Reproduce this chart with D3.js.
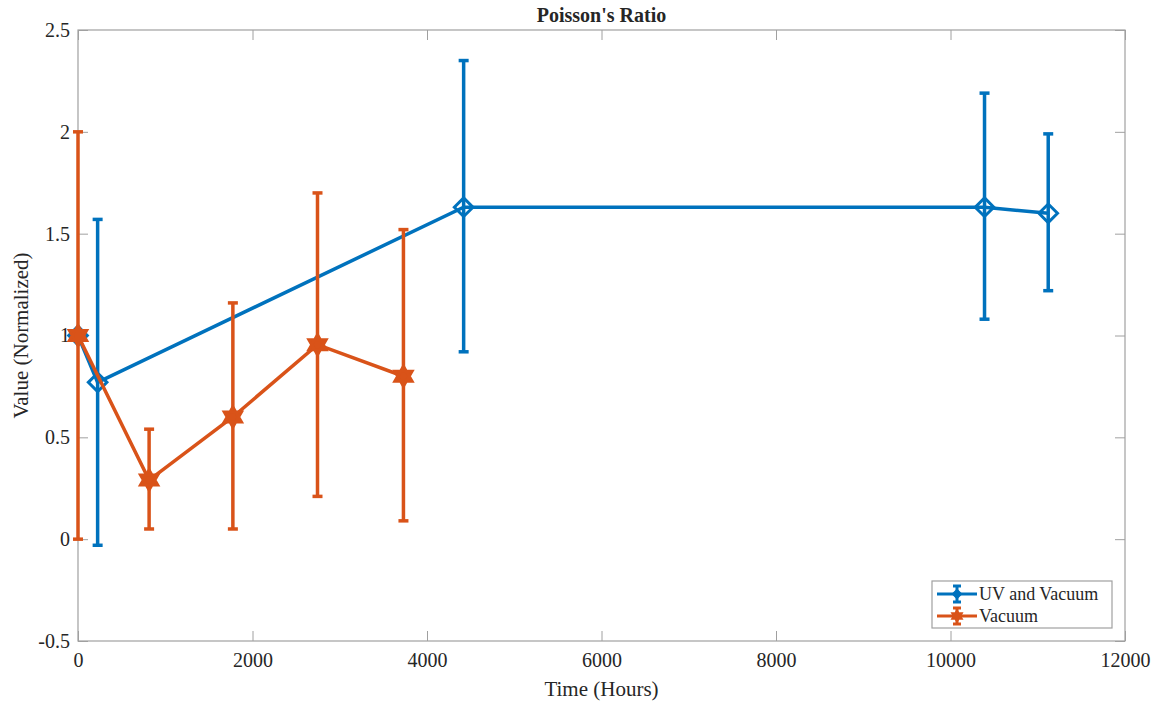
<!DOCTYPE html>
<html>
  <head>
    <meta http-equiv="Content-Type" content="text/html;charset=utf-8">
    <script src="https://d3js.org/d3.v7.min.js"></script>
    <style>
      body { margin: 0; background: #fff; }
      text { font-family: "Liberation Serif", "DejaVu Serif", serif; fill: #262626; }
    </style>
  </head>
  <body>
    <svg id="chart" width="1157" height="703"></svg>
    <script type="text/javascript">

// data
var uvHours = [0, 225, 4420, 10390, 11120];
var uvValue = [1.0, 0.77, 1.63, 1.63, 1.60];
var uvLow   = [0.99, -0.03, 0.92, 1.08, 1.22];
var uvHigh  = [1.01, 1.57, 2.35, 2.19, 1.99];

var vacHours = [0, 815, 1775, 2745, 3730];
var vacValue = [1.0, 0.29, 0.60, 0.955, 0.80];
var vacLow   = [0.0, 0.05, 0.05, 0.21, 0.09];
var vacHigh  = [2.0, 0.54, 1.16, 1.70, 1.52];

var xTicks = [0, 2000, 4000, 6000, 8000, 10000, 12000];
var yTicks = [-0.5, 0, 0.5, 1, 1.5, 2, 2.5];

var seriesNames = ["UV and Vacuum", "Vacuum"];
var colors = ["#0072BD", "#D95319"];

var svg = d3.select("#chart");
var plotL = 78, plotR = 1125, plotT = 30, plotB = 641;
var serif = "'Liberation Serif', 'DejaVu Serif', serif";

var x = d3.scaleLinear().domain([0, 12000]).range([plotL, plotR]);
var y = d3.scaleLinear().domain([-0.5, 2.5]).range([plotB, plotT]);

// axes box with inward ticks on all four sides
var axisColor = "#A0A0A0";
var tickLen = 10;
function styleAxis(g) {
  g.attr("font-family", serif);
  g.selectAll(".domain").remove();
  g.selectAll(".tick line").attr("stroke", axisColor);
  g.selectAll(".tick text").style("font-size", "20px").style("font-family", serif).attr("fill", "#262626");
}
svg.append("g").attr("transform", "translate(0," + plotB + ")")
  .call(d3.axisBottom(x).tickValues(xTicks).tickSizeInner(-tickLen).tickSizeOuter(0).tickPadding(12).tickFormat(d3.format("d")))
  .call(styleAxis);
svg.append("g").attr("transform", "translate(0," + plotT + ")")
  .call(d3.axisTop(x).tickValues(xTicks).tickSizeInner(-tickLen).tickSizeOuter(0).tickFormat(""))
  .call(styleAxis);
svg.append("g").attr("transform", "translate(" + plotL + ",0)")
  .call(d3.axisLeft(y).tickValues(yTicks).tickSizeInner(-tickLen).tickSizeOuter(0).tickPadding(8).tickFormat(function(d) { return String(d); }))
  .call(styleAxis);
svg.append("g").attr("transform", "translate(" + plotR + ",0)")
  .call(d3.axisRight(y).tickValues(yTicks).tickSizeInner(-tickLen).tickSizeOuter(0).tickFormat(""))
  .call(styleAxis);

svg.append("rect")
  .attr("x", plotL).attr("y", plotT)
  .attr("width", plotR - plotL).attr("height", plotB - plotT)
  .attr("fill", "none").attr("stroke", axisColor).attr("stroke-width", 1.2);

// titles
svg.append("text").attr("x", (plotL + plotR) / 2).attr("y", 22)
  .attr("text-anchor", "middle").style("font-size", "20px").style("font-weight", "bold")
  .style("font-family", serif).attr("fill", "#000").text("Poisson's Ratio");
svg.append("text").attr("x", (plotL + plotR) / 2).attr("y", 696)
  .attr("text-anchor", "middle").style("font-size", "21px").style("font-family", serif).text("Time (Hours)");
svg.append("text").attr("transform", "translate(28," + ((plotT + plotB) / 2) + ") rotate(-90)")
  .attr("text-anchor", "middle").style("font-size", "21px").style("font-family", serif).text("Value (Normalized)");

// marker shapes
var diamond = d3.symbol().type(d3.symbolDiamond2).size(220);
function hexagram(r) {
  var p = d3.path();
  [0, 1].forEach(function(k) {
    for (var i = 0; i < 3; i++) {
      var a = (k * 60 + i * 120 - 90) * Math.PI / 180;
      var px = r * Math.cos(a), py = r * Math.sin(a);
      if (i === 0) p.moveTo(px, py); else p.lineTo(px, py);
    }
    p.closePath();
  });
  return p.toString();
}

function drawSeries(hours, vals, lows, highs, color, shape) {
  var g = svg.append("g");
  var pts = hours.map(function(h, i) { return { h: h, v: vals[i], lo: lows[i], hi: highs[i] }; });

  g.append("path").datum(pts)
    .attr("fill", "none").attr("stroke", color).attr("stroke-width", 3.5)
    .attr("d", d3.line().x(function(d) { return x(d.h); }).y(function(d) { return y(d.v); }));

  var eb = g.selectAll(".eb").data(pts).enter().append("g");
  eb.append("line")
    .attr("x1", function(d) { return x(d.h); }).attr("x2", function(d) { return x(d.h); })
    .attr("y1", function(d) { return y(d.lo); }).attr("y2", function(d) { return y(d.hi); })
    .attr("stroke", color).attr("stroke-width", 3.5);
  ["lo", "hi"].forEach(function(k) {
    eb.append("line")
      .attr("x1", function(d) { return x(d.h) - 5; }).attr("x2", function(d) { return x(d.h) + 5; })
      .attr("y1", function(d) { return y(d[k]); }).attr("y2", function(d) { return y(d[k]); })
      .attr("stroke", color).attr("stroke-width", 3.5);
  });

  g.selectAll(".mk").data(pts).enter().append("path")
    .attr("transform", function(d) { return "translate(" + x(d.h) + "," + y(d.v) + ")"; })
    .attr("fill", shape === "star" ? color : "none")
    .attr("stroke", color).attr("stroke-width", 3)
    .attr("d", function() { return shape === "star" ? hexagram(10) : diamond(); });
}

drawSeries(uvHours, uvValue, uvLow, uvHigh, colors[0], "diamond");
drawSeries(vacHours, vacValue, vacLow, vacHigh, colors[1], "star");

// legend
var lg = svg.append("g");
lg.append("rect").attr("x", 932).attr("y", 581).attr("width", 180).attr("height", 47)
  .attr("fill", "#fff").attr("stroke", axisColor).attr("stroke-width", 1.2);
seriesNames.forEach(function(name, i) {
  var ly = 594 + i * 22, c = colors[i];
  lg.append("line").attr("x1", 937).attr("x2", 977).attr("y1", ly).attr("y2", ly)
    .attr("stroke", c).attr("stroke-width", 3);
  lg.append("line").attr("x1", 957).attr("x2", 957).attr("y1", ly - 8).attr("y2", ly + 8)
    .attr("stroke", c).attr("stroke-width", 3);
  lg.append("line").attr("x1", 953).attr("x2", 961).attr("y1", ly - 8).attr("y2", ly - 8)
    .attr("stroke", c).attr("stroke-width", 3);
  lg.append("line").attr("x1", 953).attr("x2", 961).attr("y1", ly + 8).attr("y2", ly + 8)
    .attr("stroke", c).attr("stroke-width", 3);
  lg.append("path").attr("transform", "translate(957," + ly + ")")
    .attr("d", i === 0 ? d3.symbol().type(d3.symbolDiamond2).size(50)() : hexagram(6))
    .attr("fill", c).attr("stroke", c).attr("stroke-width", 1.5);
  lg.append("text").attr("x", 979).attr("y", ly + 6).style("font-size", "18px")
    .style("font-family", serif).text(name);
});

    </script>
  </body>
</html>
